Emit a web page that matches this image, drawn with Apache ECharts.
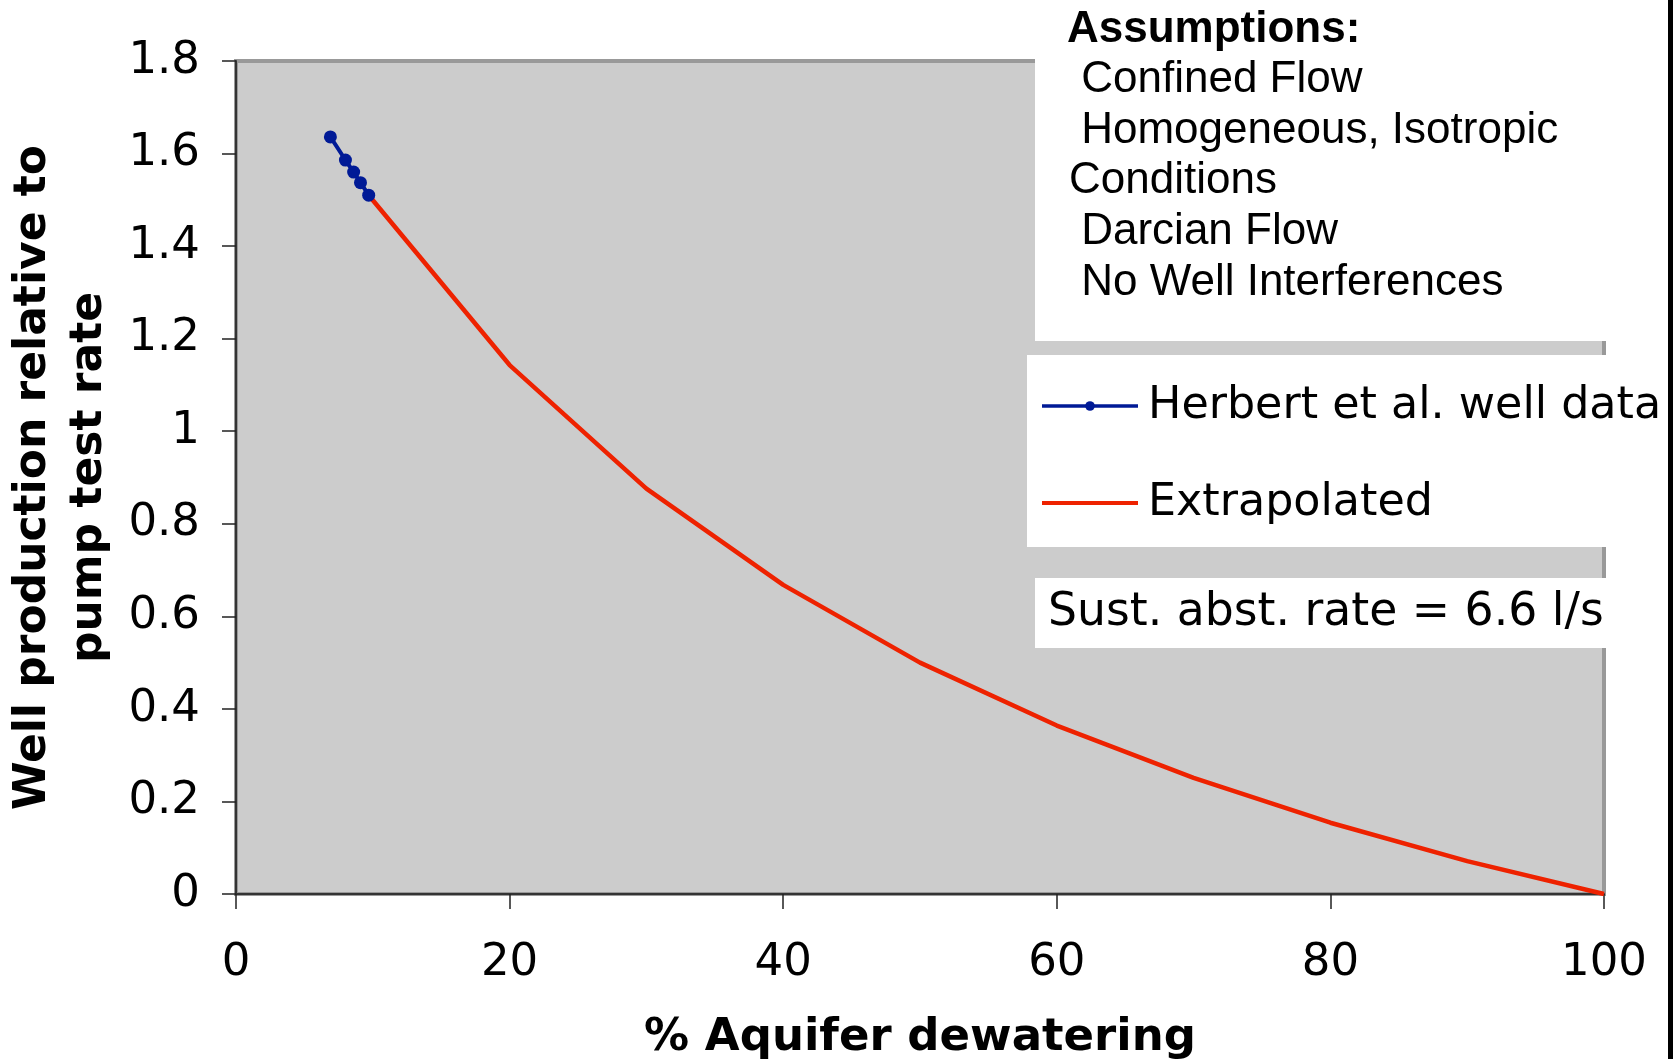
<!DOCTYPE html>
<html>
<head>
<meta charset="utf-8">
<script src="https://cdn.jsdelivr.net/npm/echarts@6/dist/echarts.min.js"></script>
<style>html,body{margin:0;padding:0;background:#fff}#c{width:1673px;height:1059px}</style>
</head>
<body>
<div id="c"></div>
<script>
// ---- data ----
const X_TICKS = [0, 20, 40, 60, 80, 100];
const Y_TICKS = [0, 0.2, 0.4, 0.6, 0.8, 1, 1.2, 1.4, 1.6, 1.8];
const WELL_X = [6.9, 8.0, 8.6, 9.1, 9.7];
const WELL_Y = [1.636, 1.586, 1.560, 1.537, 1.510];
const EXTRA_X = [9.7, 20, 30, 40, 50, 60, 70, 80, 90, 100];
const EXTRA_Y = [1.510, 1.143, 0.876, 0.668, 0.500, 0.364, 0.251, 0.154, 0.071, 0];
const SERIES_NAMES = ['Herbert et al. well data', 'Extrapolated'];
const X_TITLE = '% Aquifer dewatering';
const Y_TITLE = 'Well production relative to\npump test rate';
const ASSUMPTIONS = ['Assumptions:', ' Confined Flow', ' Homogeneous, Isotropic', 'Conditions', ' Darcian Flow', ' No Well Interferences'];
const NOTE = 'Sust. abst. rate = 6.6 l/s';

const chart = echarts.init(document.getElementById('c'), null, {renderer: 'canvas'});
const SANS = '"DejaVu Sans", Verdana, sans-serif';
const ARIAL = '"Liberation Sans", Arial, sans-serif';
const BLUE = '#001a96', RED = '#ee2200';

const option = {
  animation: false,
  backgroundColor: '#fff',
  grid: {left: 236, right: 69, top: 61, bottom: 165, show: true, containLabel: false,
         outerBoundsMode: 'none',
         backgroundColor: '#cccccc', borderColor: '#999', borderWidth: 4},
  xAxis: {
    type: 'value', min: X_TICKS[0], max: X_TICKS[X_TICKS.length - 1], interval: X_TICKS[1] - X_TICKS[0],
    name: X_TITLE, nameLocation: 'middle', nameGap: 122, nameMoveOverlap: false,
    nameTextStyle: {fontFamily: SANS, fontSize: 45, fontWeight: 'bold', color: '#000'},
    axisLine: {show: true, onZero: false, lineStyle: {color: '#333', width: 2}},
    axisTick: {show: true, inside: false, length: 15, lineStyle: {color: '#222', width: 1.5}},
    axisLabel: {fontFamily: SANS, fontSize: 45, color: '#000', margin: 47},
    splitLine: {show: false}
  },
  yAxis: {
    type: 'value', min: Y_TICKS[0], max: Y_TICKS[Y_TICKS.length - 1], interval: 0.2,
    name: Y_TITLE, nameLocation: 'middle', nameRotate: 90, nameGap: 118, nameMoveOverlap: false,
    nameTextStyle: {fontFamily: SANS, fontSize: 44, fontWeight: 'bold', color: '#000', lineHeight: 56},
    axisLine: {show: true, lineStyle: {color: '#333', width: 2}},
    axisTick: {show: true, inside: false, length: 14, lineStyle: {color: '#222', width: 1.5}},
    axisLabel: {fontFamily: SANS, fontSize: 45, color: '#000', margin: 36},
    splitLine: {show: false}
  },
  legend: {
    data: [
      {name: SERIES_NAMES[0], lineStyle: {width: 3.5, color: BLUE}},
      {name: SERIES_NAMES[1], lineStyle: {width: 4, color: RED}, itemStyle: {opacity: 0}}
    ],
    orient: 'vertical', left: 1027, top: 355,
    backgroundColor: '#fff', padding: [29, 8, 22, 13], itemGap: 53,
    itemWidth: 96, itemHeight: 12,
    textStyle: {fontFamily: SANS, fontSize: 44.4, color: '#000', padding: [0, 0, 0, 5]}
  },
  series: [
    {name: SERIES_NAMES[1], type: 'line', data: EXTRA_X.map((x, i) => [x, EXTRA_Y[i]]),
     symbol: 'none', lineStyle: {color: RED, width: 4.5}, itemStyle: {color: RED}, z: 2},
    {name: SERIES_NAMES[0], type: 'line', data: WELL_X.map((x, i) => [x, WELL_Y[i]]),
     symbol: 'circle', symbolSize: 13, lineStyle: {color: BLUE, width: 4},
     itemStyle: {color: BLUE}, z: 3}
  ],
  graphic: [
    {type: 'rect', shape: {x: 1035, y: 0, width: 632, height: 341}, style: {fill: '#fff'}, z: 100},
    {type: 'text', x: 1067, y: 30, z: 101,
     style: {text: ASSUMPTIONS[0], font: 'bold 44px ' + ARIAL, fill: '#000', verticalAlign: 'middle'}},
    ...ASSUMPTIONS.slice(1).map((t, i) => ({type: 'text', x: 1069, y: 80 + i * 50.6, z: 101,
      style: {text: t, font: '44px ' + ARIAL, fill: '#000', verticalAlign: 'middle'}})),
    {type: 'rect', shape: {x: 1035, y: 578, width: 571, height: 70}, style: {fill: '#fff'}, z: 100},
    {type: 'text', x: 1048, y: 613, z: 101,
     style: {text: NOTE, font: '45.7px ' + SANS, fill: '#000', verticalAlign: 'middle'}},
    {type: 'rect', shape: {x: 1668, y: 0, width: 5, height: 1059}, style: {fill: '#000'}, z: 102}
  ]
};
chart.setOption(option);
</script>
</body>
</html>
